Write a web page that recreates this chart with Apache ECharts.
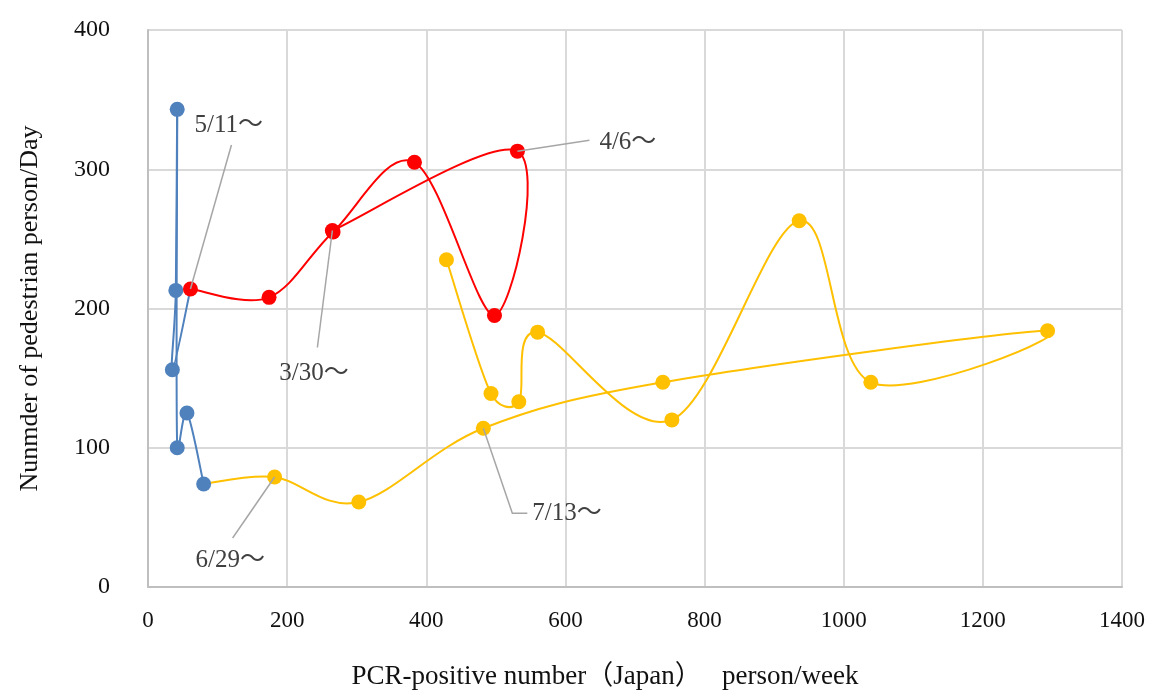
<!DOCTYPE html>
<html>
<head>
<meta charset="utf-8">
<script src="https://cdn.jsdelivr.net/npm/echarts@6/dist/echarts.min.js"></script>
<style>
html,body{margin:0;padding:0;background:#fff;overflow:hidden;}
#chart{width:1150px;height:695px;}
</style>
</head>
<body>
<div id="chart"></div>
<script>
// ---- data (x: PCR-positive number per week, y: pedestrians per day) ----
const redWeeks  = ['3/30','4/6','4/13','4/20','4/27','5/4','5/11'];
const redPcr    = [265, 531, 498, 383, 266, 174, 61];
const redWalk   = [256, 313, 195, 305, 255, 208, 214];

const blueWeeks = ['5/11','5/18','5/25','6/1','6/8','6/15','6/22'];
const bluePcr   = [61, 35, 40, 42, 42, 56, 80];
const blueWalk  = [214, 156, 213, 343, 100, 125, 74];

const yellowWeeks = ['6/22','6/29','7/6','7/13','7/20','7/27','8/3','8/10','8/17','8/24','8/31','9/7','9/14'];
const yellowPcr   = [80, 182, 303, 482, 740, 1293, 1039, 936, 753, 560, 533, 493, 429];
const yellowWalk  = [74, 79, 61, 114, 147, 184, 147, 263, 120, 183, 133, 139, 235];

const xTicks = [0, 200, 400, 600, 800, 1000, 1200, 1400];
const yTicks = [0, 100, 200, 300, 400];

const callouts = [
  {text: '3/30～', series: 'red',    week: '3/30'},
  {text: '4/6～',  series: 'red',    week: '4/6'},
  {text: '5/11～', series: 'red',    week: '5/11'},
  {text: '6/29～', series: 'yellow', week: '6/29'},
  {text: '7/13～', series: 'yellow', week: '7/13'}
];

// ---- layout (pixel offsets of the callouts relative to their point) ----
const calloutLayout = {
  '3/30～': {line: [[-15, 117]], text: [-53, 143]},
  '4/6～':  {line: [[72, -11]], text: [82, -9]},
  '5/11～': {line: [[41, -144]], text: [4, -164]},
  '6/29～': {line: [[-42, 61]], text: [-79, 83]},
  '7/13～': {line: [[29, 85], [44, 85]], text: [49, 85]}
};

const colors = {red: '#ff0000', blue: '#4f81bd', yellow: '#ffc000'};
const FONT = '"Liberation Serif", "Times New Roman", serif';
const LABEL_FONT = '"Liberation Serif", "Noto Sans CJK JP", serif';

const seriesData = {
  red: {x: redPcr, y: redWalk, weeks: redWeeks},
  blue: {x: bluePcr, y: blueWalk, weeks: blueWeeks},
  yellow: {x: yellowPcr, y: yellowWalk, weeks: yellowWeeks}
};

function arm(a, b, segLen) {
  // tangent arm (b - a)/6, limited to half of the segment it lies on
  let vx = (b[0] - a[0]) / 6, vy = (b[1] - a[1]) / 6;
  const len = Math.hypot(vx, vy), lim = segLen * 0.5;
  if (len > lim && len > 0) { vx *= lim / len; vy *= lim / len; }
  return [vx, vy];
}

// smoothed curve through the points (spreadsheet-style smoothed line)
function smoothCurve(name, z) {
  const d = seriesData[name];
  return {
    name: name + '-line',
    type: 'custom',
    coordinateSystem: 'cartesian2d',
    z: z,
    silent: true,
    data: [[d.x[0], d.y[0]]],
    renderItem: function (params, api) {
      const pts = d.x.map((v, i) => api.coord([v, d.y[i]]));
      const children = [];
      for (let i = 0; i < pts.length - 1; i++) {
        const p0 = pts[i - 1] || pts[i], p1 = pts[i], p2 = pts[i + 1], p3 = pts[i + 2] || pts[i + 1];
        const seg = Math.hypot(p2[0] - p1[0], p2[1] - p1[1]);
        const a1 = arm(p0, p2, seg);
        const a2 = arm(p1, p3, seg);
        children.push({
          type: 'bezierCurve',
          shape: {
            x1: p1[0], y1: p1[1], x2: p2[0], y2: p2[1],
            cpx1: p1[0] + a1[0], cpy1: p1[1] + a1[1],
            cpx2: p2[0] - a2[0], cpy2: p2[1] - a2[1]
          },
          style: {stroke: colors[name], lineWidth: 2, fill: null}
        });
      }
      return {type: 'group', children: children};
    },
    animation: false
  };
}

function markers(name, hideFirst, z) {
  const d = seriesData[name];
  const data = d.x.map((v, i) => {
    const item = {value: [v, d.y[i]]};
    if (hideFirst && i === 0) item.symbol = 'none';
    return item;
  });
  return {
    name: name,
    type: 'scatter',
    symbol: 'circle',
    symbolSize: 15,
    z: z,
    itemStyle: {color: colors[name], opacity: 1},
    data: data,
    animation: false
  };
}

const chart = echarts.init(document.getElementById('chart'), null, {renderer: 'canvas', width: 1150, height: 695});
const option = {
  animation: false,
  backgroundColor: '#ffffff',
  grid: {left: 148, right: 28, top: 30, bottom: 101, containLabel: false},
  xAxis: {
    type: 'value',
    min: xTicks[0], max: xTicks[xTicks.length - 1], interval: xTicks[1] - xTicks[0],
    name: 'PCR-positive number（Japan）　 person/week',
    nameLocation: 'middle', nameGap: 76,
    nameTextStyle: {fontFamily: LABEL_FONT, fontSize: 27, color: '#111', padding: [0, 60, 0, 0]},
    axisLine: {show: true, lineStyle: {color: '#bfbfbf', width: 2}},
    axisTick: {show: false},
    axisLabel: {fontFamily: FONT, fontSize: 23, color: '#111', margin: 22, formatter: v => String(v)},
    splitLine: {show: true, lineStyle: {color: '#d9d9d9', width: 2}}
  },
  yAxis: {
    type: 'value',
    min: yTicks[0], max: yTicks[yTicks.length - 1], interval: yTicks[1] - yTicks[0],
    name: 'Nunmder of pedestrian person/Day',
    nameLocation: 'middle', nameGap: 105, nameRotate: 90,
    nameTextStyle: {fontFamily: FONT, fontSize: 26, color: '#111'},
    axisLine: {show: true, lineStyle: {color: '#bfbfbf', width: 2}},
    axisTick: {show: false},
    axisLabel: {fontFamily: FONT, fontSize: 24, color: '#111', margin: 38, padding: [0, 0, 12, 0], formatter: v => String(v)},
    splitLine: {show: true, lineStyle: {color: '#d9d9d9', width: 2}}
  },
  series: [
    smoothCurve('yellow', 2), markers('yellow', true, 3),
    smoothCurve('blue', 4), markers('blue', true, 5),
    smoothCurve('red', 6), markers('red', false, 7)
  ]
};
chart.setOption(option);

// callouts anchored at data points through the chart's own scales
const graphics = [];
callouts.forEach(c => {
  const d = seriesData[c.series];
  const idx = d.weeks.indexOf(c.week);
  const p = chart.convertToPixel({gridIndex: 0}, [d.x[idx], d.y[idx]]);
  const lay = calloutLayout[c.text];
  const pts = [[p[0], p[1]]].concat(lay.line.map(o => [p[0] + o[0], p[1] + o[1]]));
  graphics.push({
    type: 'polyline', z: 10,
    shape: {points: pts},
    style: {stroke: '#a6a6a6', lineWidth: 1.5, fill: null}
  });
  graphics.push({
    type: 'text', z: 10,
    x: p[0] + lay.text[0], y: p[1] + lay.text[1],
    style: {text: c.text, font: '25px ' + LABEL_FONT, fill: '#404040', verticalAlign: 'middle', align: 'left'}
  });
});
chart.setOption({graphic: graphics});
</script>
</body>
</html>
